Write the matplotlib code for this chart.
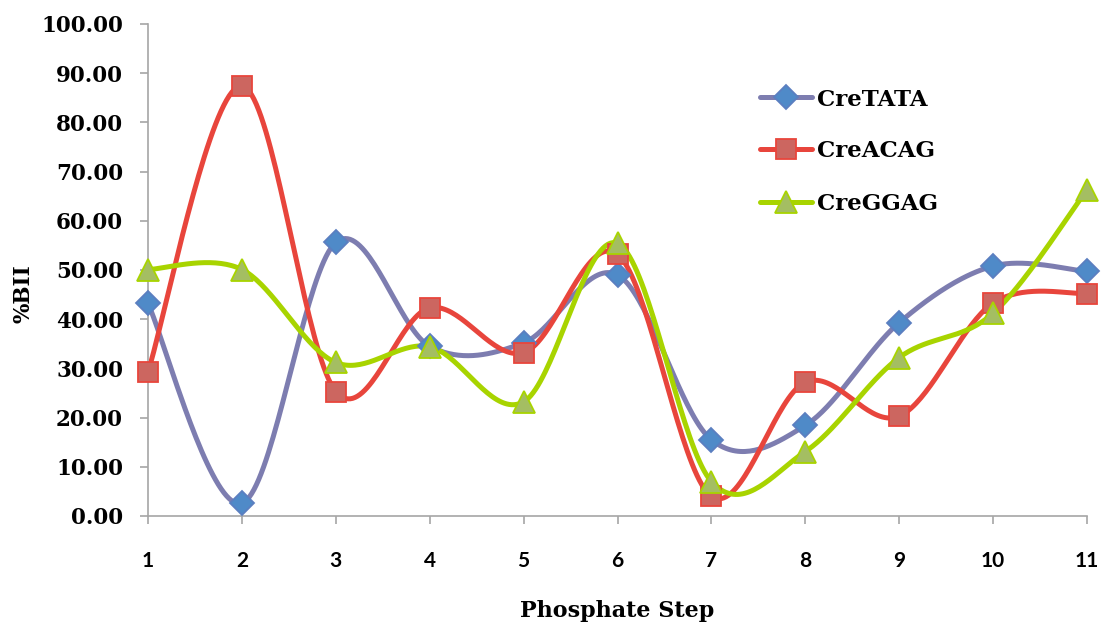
import numpy as np
import matplotlib
matplotlib.use("Agg")
import matplotlib.pyplot as plt
from matplotlib.lines import Line2D

steps = [1, 2, 3, 4, 5, 6, 7, 8, 9, 10, 11]
cre_tata = [43.2, 2.6, 55.6, 34.5, 35.2, 49.0, 15.5, 18.4, 39.3, 50.8, 49.7]
cre_acag = [29.3, 87.4, 25.3, 42.3, 33.2, 53.2, 4.0, 27.2, 20.3, 43.3, 45.2]
cre_ggag = [50.1, 50.1, 31.2, 34.4, 23.2, 55.4, 7.0, 13.1, 32.2, 41.2, 66.3]
series_names = ["CreTATA", "CreACAG", "CreGGAG"]
y_ticks = list(range(0, 101, 10))

serif = ["DejaVu Serif"]
sans = ["Lato", "DejaVu Sans"]

W, H = 1102, 625


def smooth(xs, ys, n=40):
    """Catmull-Rom style cubic Bezier smoothing through every point."""
    p = np.column_stack([xs, ys]).astype(float)
    ext = np.vstack([p[0], p, p[-1]])
    out = []
    t = np.linspace(0, 1, n)[:, None]
    for i in range(len(p) - 1):
        p0, p1, p2, p3 = ext[i], ext[i + 1], ext[i + 2], ext[i + 3]
        c1 = p1 + (p2 - p0) / 6.0
        c2 = p2 - (p3 - p1) / 6.0
        seg = ((1 - t) ** 3) * p1 + 3 * ((1 - t) ** 2) * t * c1 \
            + 3 * (1 - t) * t ** 2 * c2 + t ** 3 * p2
        out.append(seg if i == 0 else seg[1:])
    out = np.vstack(out)
    return out[:, 0], out[:, 1]


fig = plt.figure(figsize=(W / 100, H / 100), dpi=100)
ax = fig.add_axes([148 / W, 109 / H, (1087 - 148) / W, (516 - 24) / H])

styles = [
    dict(line="#7D7DB0", face="#4F8AC8", edge="#5B7FC0", marker="D", ms=12.5),
    dict(line="#E8453C", face="#CC6660", edge="#E8453C", marker="s", ms=14.5),
    dict(line="#A8D400", face="#A4BE62", edge="#A8D400", marker="^", ms=15.5),
]

for vals, st in zip([cre_tata, cre_acag, cre_ggag], styles):
    sx, sy = smooth(steps, vals)
    ax.plot(sx, sy, color=st["line"], lw=3.6, solid_capstyle="round", zorder=2)
    ax.plot(steps, vals, linestyle="none", marker=st["marker"], ms=st["ms"],
            mfc=st["face"], mec=st["edge"], mew=1.3, zorder=3, clip_on=False)

ax.set_xlim(1, 11)
ax.set_ylim(0, 100)
ax.set_xticks(steps)
ax.set_yticks(y_ticks)
ax.set_yticklabels([f"{v:.2f}" for v in y_ticks])

for side in ("top", "right"):
    ax.spines[side].set_visible(False)
for side in ("left", "bottom"):
    ax.spines[side].set_color("#A6A6A6")
    ax.spines[side].set_linewidth(1.2)
ax.tick_params(axis="both", direction="out", length=6, width=1.2, color="#A6A6A6")
ax.tick_params(axis="y", pad=12)
ax.tick_params(axis="x", pad=19)

for lbl in ax.get_yticklabels():
    lbl.set_fontfamily(serif)
    lbl.set_fontweight("bold")
    lbl.set_fontsize(15.5)
for lbl in ax.get_xticklabels():
    lbl.set_fontfamily(sans)
    lbl.set_fontweight("bold")
    lbl.set_fontsize(15)

fig.text(617.5 / W, 1 - 611 / H, "Phosphate Step", ha="center", va="center",
         fontfamily=serif, fontweight="bold", fontsize=16)
fig.text(23 / W, 1 - 294 / H, "%BII", ha="center", va="center", rotation=90,
         fontfamily=serif, fontweight="bold", fontsize=15.5)

# legend drawn in figure pixels
legend_rows = [97, 149, 202]
for name, st, yrow in zip(series_names, styles, legend_rows):
    yf = 1 - yrow / H
    fig.add_artist(Line2D([760 / W, 812 / W], [yf, yf], color=st["line"], lw=3.6,
                          solid_capstyle="round", transform=fig.transFigure))
    fig.add_artist(Line2D([786 / W], [yf], linestyle="none", marker=st["marker"],
                          ms=st["ms"], mfc=st["face"], mec=st["edge"], mew=1.3,
                          transform=fig.transFigure))
    fig.text(817 / W, yf, name, ha="left", va="center_baseline",
             fontfamily=serif, fontweight="bold", fontsize=16.5)

fig.savefig("out.png", dpi=100)
